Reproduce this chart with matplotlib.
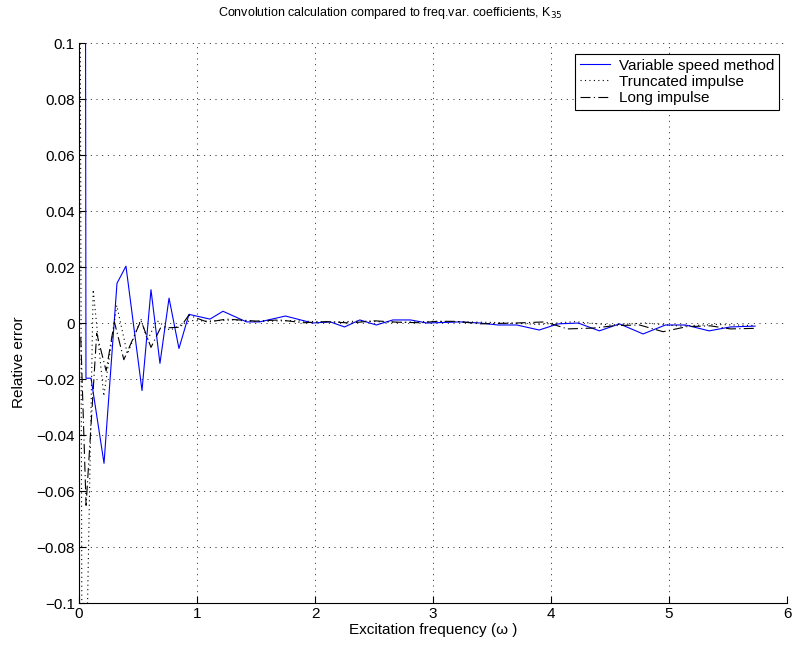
import numpy as np
import matplotlib
matplotlib.use("Agg")
import matplotlib.pyplot as plt
from matplotlib.ticker import FixedLocator, FixedFormatter

plt.rcParams['font.family'] = ['Liberation Sans', 'DejaVu Sans']

# relative error of each method against the frequency-varying coefficients
omega_vs = [0.05, 0.059, 0.102, 0.212, 0.322, 0.398, 0.534, 0.610, 0.686, 0.763,
            0.847, 0.932, 1.11, 1.22, 1.42, 1.53, 1.75, 1.98, 2.13, 2.25, 2.38,
            2.52, 2.66, 2.81, 2.95, 3.23, 3.40, 3.55, 3.71, 3.90, 4.06, 4.23,
            4.41, 4.58, 4.78, 4.97, 5.14, 5.34, 5.52, 5.73]
err_vs = [0.3, -0.0196, -0.0196, -0.050, 0.0143, 0.0204, -0.024, 0.012, -0.0143, 0.009,
          -0.009, 0.0032, 0.0015, 0.0043, 0.0005, 0.0005, 0.0026, 0.0001, 0.0005, -0.0013, 0.0012,
          -0.0006, 0.0012, 0.0012, 0.0001, 0.0005, 0.0001, -0.0006, -0.0006, -0.0024, -0.0002, 0.0001,
          -0.0027, -0.0002, -0.0038, -0.0006, -0.0006, -0.0027, -0.0013, -0.001]

omega_tr = [0.005, 0.03, 0.12, 0.21, 0.32, 0.41, 0.525, 0.58, 0.66, 0.77,
            0.94, 1.1, 1.3, 1.5, 1.8, 2.1, 2.4, 2.7, 3.0, 3.3,
            3.6, 3.9, 4.2, 4.5, 4.8, 5.1, 5.4, 5.73]
err_tr = [0.2, -0.2, 0.012, -0.026, 0.0064, -0.011, 0.0015, -0.006, 0.001, -0.0025,
          0.001, 0.0008, 0.0012, 0.0006, 0.0010, 0.0004, 0.0008, 0.0003, 0.0007, 0.0005,
          0.0002, -0.0004, 0.0006, -0.0006, 0.0001, -0.0010, -0.0004, -0.0008]

omega_li = [0.015, 0.06, 0.15, 0.23, 0.30, 0.38, 0.525, 0.61, 0.69, 0.86,
            0.93, 1.09, 1.25, 1.5, 1.7, 1.9, 2.1, 2.3, 2.5, 2.7,
            2.9, 3.03, 3.2, 3.4, 3.7, 3.95, 4.14, 4.36, 4.55, 4.75, 4.95,
            5.15, 5.35, 5.52, 5.73]
err_li = [-0.005, -0.065, -0.0036, -0.017, 0.0005, -0.013, 0.001, -0.0086, -0.0017, -0.0014,
          0.0029, 0.0004, 0.0015, 0.0008, 0.0012, 0.0002, 0.0006, 0.0001, 0.0009, 0.0004,
          0.0002, 0.0007, 0.0007, -0.0002, 0.0001, 0.0005, -0.002, -0.0017, -0.0008, -0.0006, -0.003,
          -0.0012, -0.0009, -0.002, -0.0018]

xticks = [0, 1, 2, 3, 4, 5, 6]
yticks = [0.1, 0.08, 0.06, 0.04, 0.02, 0, -0.02, -0.04, -0.06, -0.08, -0.1]
ytick_labels = ['0.1', '0.08', '0.06', '0.04', '0.02', '0',
                '\u22120.02', '\u22120.04', '\u22120.06', '\u22120.08', '\u22120.1']

fig = plt.figure(figsize=(7.94, 6.47), dpi=100)
ax = fig.add_axes([0.0995, 0.0675, 0.8917, 0.8656])

ax.plot(omega_vs, err_vs, color=(0, 0, 1), lw=0.8, label='Variable speed method')
ax.plot(omega_tr, err_tr, color='k', lw=0.8, linestyle=(0, (1, 3)), label='Truncated impulse')
ax.plot(omega_li, err_li, color='k', lw=0.8, linestyle=(0, (9, 3, 1, 3)), label='Long impulse')

ax.set_xlim(0, 6)
ax.set_ylim(-0.1, 0.1)
ax.xaxis.set_major_locator(FixedLocator(xticks))
ax.yaxis.set_major_locator(FixedLocator(yticks))
ax.yaxis.set_major_formatter(FixedFormatter(ytick_labels))
ax.tick_params(direction='in', length=5, width=0.8, labelsize=11, pad=3)
ax.grid(True, color='k', linestyle=(0, (1.2, 5.6)), linewidth=0.6)

for side in ('top', 'right'):
    ax.spines[side].set_visible(False)
for side in ('left', 'bottom'):
    ax.spines[side].set_linewidth(0.8)

ax.set_xlabel('Excitation frequency (\u03c9 )', fontsize=11, labelpad=1)
ax.set_ylabel('Relative error', fontsize=11)
ax.yaxis.set_label_coords(-0.075, 0.43)
ax.set_title('Convolution calculation compared to freq.var. coefficients, K$_{35}$',
             fontsize=9, pad=20, x=0.44)

leg = ax.legend(loc='upper right', bbox_to_anchor=(0.989, 0.981), borderaxespad=0,
                fancybox=False, edgecolor='k', framealpha=1, fontsize=11,
                handlelength=2.0, handletextpad=0.6, labelspacing=0.15, borderpad=0.3)
leg.get_frame().set_linewidth(0.8)

fig.savefig('out.png', dpi=100)
